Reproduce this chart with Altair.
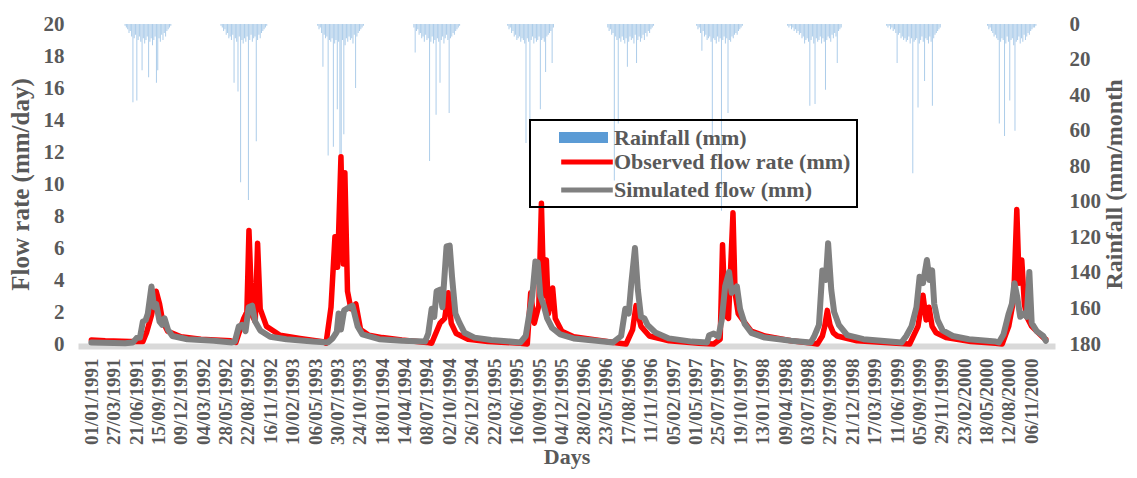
import altair as alt
import pandas as pd

START = "1991-01-01"
AXIS_START_DAY = -32
AXIS_END_DAY = 3668

tick_labels = [
    "01/01/1991", "27/03/1991", "21/06/1991", "15/09/1991", "09/12/1991",
    "04/03/1992", "28/05/1992", "22/08/1992", "16/11/1992",
    "10/02/1993", "06/05/1993", "30/07/1993", "24/10/1993",
    "18/01/1994", "14/04/1994", "08/07/1994", "02/10/1994", "26/12/1994",
    "22/03/1995", "16/06/1995", "10/09/1995", "04/12/1995",
    "28/02/1996", "23/05/1996", "17/08/1996", "11/11/1996",
    "05/02/1997", "01/05/1997", "25/07/1997", "19/10/1997",
    "13/01/1998", "09/04/1998", "03/07/1998", "27/09/1998", "21/12/1998",
    "17/03/1999", "11/06/1999", "05/09/1999", "29/11/1999",
    "23/02/2000", "18/05/2000", "12/08/2000", "06/11/2000",
]

# Observed flow rate (mm/day): day offset from 01/01/1991 and value
obs_day = [0, 53, 148, 197, 211, 230, 248, 261, 273, 292, 343, 419, 533, 553,
           583, 595, 603, 615, 627, 636, 646, 670, 722, 798, 886,
           898, 917, 932, 942, 955, 964, 970, 980, 993, 1012, 1030, 1062, 1113, 1188, 1283,
           1302, 1334, 1352, 1366, 1377, 1396, 1441, 1517, 1642,
           1668, 1681, 1695, 1712, 1722, 1731, 1741, 1749, 1765, 1775, 1800, 1845, 1932, 2021,
           2046, 2071, 2084, 2103, 2135, 2210, 2324,
           2381, 2406, 2415, 2425, 2438, 2455, 2463, 2475, 2495, 2525, 2577, 2677, 2760,
           2778, 2797, 2806, 2816, 2826, 2839, 2854, 2929, 3081,
           3131, 3163, 3182, 3194, 3205, 3217, 3232, 3270, 3365, 3460,
           3485, 3510, 3529, 3541, 3550, 3560, 3570, 3579, 3598, 3623, 3645, 3652]
obs_flow = [0.25, 0.2, 0.15, 0.15, 0.7, 1.8, 3.3, 2.5, 1.4, 0.8, 0.45, 0.3, 0.2, 0.1,
            1.6, 2.0, 7.1, 1.8, 1.4, 6.3, 2.2, 1.1, 0.55, 0.35, 0.15,
            0.05, 2.3, 6.7, 4.8, 11.7, 5.0, 10.7, 3.3, 2.2, 2.5, 0.9, 0.55, 0.4, 0.25, 0.1,
            0.05, 1.3, 1.6, 3.2, 1.3, 0.65, 0.3, 0.15, 0.05,
            0.0, 3.2, 1.3, 2.4, 8.8, 3.0, 5.25, 1.9, 3.5, 1.6, 0.8, 0.45, 0.25, 0.05,
            0.0, 0.9, 2.4, 1.1, 0.5, 0.2, 0.05,
            0.0, 0.3, 6.2, 1.8, 1.6, 8.2, 3.2, 1.9, 1.45, 0.8, 0.5, 0.2, 0.05,
            0.0, 0.5, 1.1, 2.1, 1.2, 0.7, 0.5, 0.2, 0.05,
            0.0, 1.1, 3.05, 1.5, 2.3, 1.1, 0.7, 0.4, 0.15, 0.05,
            0.0, 1.1, 2.8, 8.4, 3.8, 5.25, 2.5, 1.7, 1.1, 0.7, 0.35, 0.3]

# Simulated flow (mm/day)
sim_day = [0, 129, 159, 173, 186, 197, 208, 216, 230, 240, 248, 261, 271, 280, 293, 310, 367, 469,
           538, 549, 564, 576, 590, 602, 615, 627, 646, 684, 746, 848,
           905, 923, 939, 946, 955, 967, 987, 999, 1019, 1037, 1101, 1188,
           1277, 1289, 1302, 1312, 1321, 1334, 1343, 1359, 1371, 1380, 1393, 1409, 1428, 1466, 1530,
           1642, 1662, 1674, 1687, 1699, 1708, 1718, 1731, 1744, 1763, 1794, 1845, 1932,
           1996, 2027, 2043, 2056, 2066, 2080, 2091, 2103, 2116, 2128, 2160, 2210, 2298,
           2356, 2364, 2381, 2399, 2412, 2425, 2440, 2450, 2470, 2482, 2500, 2525, 2577, 2677,
           2753, 2765, 2784, 2797, 2810, 2819, 2831, 2842, 2860, 2892, 2954, 3056,
           3100, 3118, 3138, 3157, 3169, 3182, 3197, 3207, 3217, 3225, 3238, 3257, 3296, 3358, 3460,
           3472, 3490, 3510, 3522, 3532, 3542, 3554, 3567, 3579, 3589, 3598, 3617, 3642, 3652]
sim_flow = [0.1, 0.05, 0.1, 0.37, 0.4, 1.4, 1.5, 1.9, 3.6, 2.3, 2.5, 1.4, 1.2, 1.6, 0.9, 0.5, 0.3, 0.2,
            0.1, 0.15, 1.1, 1.2, 0.8, 2.3, 2.4, 1.4, 0.85, 0.45, 0.3, 0.15,
            0.1, 0.35, 0.75, 1.9, 0.9, 2.1, 2.3, 2.4, 1.1, 0.6, 0.3, 0.2,
            0.15, 0.65, 2.2, 1.7, 3.3, 3.4, 2.3, 6.1, 6.15, 4.2, 1.9, 1.3, 0.7, 0.4, 0.25,
            0.1, 0.5, 1.7, 3.0, 5.15, 5.1, 3.0, 2.4, 1.6, 1.0, 0.6, 0.35, 0.2,
            0.1, 0.5, 2.2, 1.9, 3.8, 6.0, 3.4, 1.7, 1.6, 1.2, 0.7, 0.35, 0.15,
            0.1, 0.55, 0.65, 0.45, 1.5, 3.6, 4.5, 3.2, 3.6, 2.2, 1.25, 0.7, 0.4, 0.2,
            0.1, 0.45, 1.2, 4.6, 4.0, 6.3, 3.4, 2.0, 1.2, 0.55, 0.3, 0.15,
            0.1, 0.5, 1.1, 2.3, 4.2, 3.8, 5.25, 4.0, 4.6, 2.5, 1.5, 0.85, 0.5, 0.3, 0.15,
            0.1, 0.6, 1.9, 2.5, 3.8, 3.0, 1.7, 1.9, 1.7, 4.5, 1.3, 0.8, 0.5, 0.2]

# Rainfall (mm): one list per wet season, one value every RAIN_STEP days from the season start
RAIN_STEP = 5
rain_season_start = [129, 496, 866, 1234, 1593, 1976, 2316, 2664, 3043, 3429]
rain_1991 = [1, 2, 3, 5, 4, 7, 44, 8, 6, 43, 9, 7, 10, 26, 8, 11, 9, 7, 30, 10, 8, 12, 9, 7, 33, 26,
             8, 10, 6, 9, 5, 7, 4, 3, 2, 1]
rain_1992 = [1, 2, 4, 3, 6, 5, 8, 7, 9, 6, 33, 8, 10, 38, 7, 89, 9, 11, 8, 10, 7, 99, 9, 6, 10, 8, 7,
             66, 9, 6, 8, 5, 4, 3, 2, 1]
rain_1993 = [1, 3, 2, 5, 24, 6, 8, 7, 74, 9, 10, 8, 69, 11, 9, 48, 10, 75, 73, 9, 62, 12, 8, 10, 7, 9,
             8, 11, 6, 36, 7, 5, 4, 3, 2, 1]
rain_1994 = [2, 16, 4, 3, 6, 5, 8, 7, 10, 6, 9, 8, 77, 10, 7, 11, 9, 51, 8, 10, 33, 9, 7, 11, 8, 6, 9,
             50, 8, 7, 5, 6, 4, 3, 2, 1]
rain_1995 = [1, 3, 2, 5, 4, 7, 6, 9, 8, 7, 10, 8, 9, 11, 67, 8, 10, 90, 9, 7, 11, 8, 10, 9, 7, 48, 9,
             8, 10, 27, 7, 6, 5, 4, 22, 2]
rain_1996 = [2, 4, 3, 6, 5, 88, 7, 9, 56, 8, 10, 7, 9, 11, 8, 24, 10, 7, 9, 8, 11, 6, 22, 9, 7, 10, 8,
             6, 9, 5, 7, 4, 5, 3, 2, 1]
rain_1997 = [1, 3, 2, 5, 15, 4, 7, 6, 9, 8, 7, 10, 67, 8, 9, 11, 7, 10, 8, 105, 9, 7, 11, 8, 50, 9, 10,
             7, 8, 6, 5, 6, 4, 3, 2, 1]
rain_1998 = [1, 2, 1, 3, 2, 4, 3, 5, 4, 6, 5, 8, 7, 11, 9, 8, 10, 46, 9, 7, 11, 45, 8, 10, 9, 7, 11, 8,
             10, 37, 9, 7, 8, 10, 6, 8, 5, 7, 22, 4, 3, 2]
rain_1999 = [1, 2, 1, 3, 2, 4, 3, 5, 22, 6, 5, 8, 7, 9, 8, 10, 9, 7, 11, 8, 84, 10, 9, 8, 47, 11, 9, 7,
             10, 32, 8, 9, 11, 7, 10, 46, 8, 6, 5, 4, 3, 2]
rain_2000 = [1, 3, 2, 4, 5, 7, 6, 8, 9, 56, 10, 8, 9, 63, 11, 7, 10, 43, 9, 8, 12, 60, 10, 9, 7, 11, 8,
             10, 6, 9, 7, 5, 6, 4, 3, 2, 2, 1]
rain_seasons = [rain_1991, rain_1992, rain_1993, rain_1994, rain_1995,
                rain_1996, rain_1997, rain_1998, rain_1999, rain_2000]

RAIN_NAME = "Rainfall (mm)"
FLOW_NAMES = ["Observed flow rate (mm)", "Simulated flow (mm)"]
RAIN_COLOR = "#5B9BD5"
FLOW_COLORS = ["#FF0000", "#808080"]

# ---------------------------------------------------------------------------
base = pd.Timestamp(START)


def to_date(d):
    return (base + pd.Timedelta(days=int(d))).strftime("%Y-%m-%dT00:00:00")


def dt(ts):
    return alt.DateTime(year=ts.year, month=ts.month, date=ts.day)


obs_df = pd.DataFrame({"date": [to_date(d) for d in obs_day], "flow": obs_flow, "series": FLOW_NAMES[0]})
sim_df = pd.DataFrame({"date": [to_date(d) for d in sim_day], "flow": sim_flow, "series": FLOW_NAMES[1]})

rain_rows = []
for start, vals in zip(rain_season_start, rain_seasons):
    for i, v in enumerate(vals):
        rain_rows.append({"date": to_date(start + i * RAIN_STEP), "rain": v, "series": RAIN_NAME})
rain_df = pd.DataFrame(rain_rows)

tick_vals = [dt(pd.Timestamp(year=int(s[6:]), month=int(s[3:5]), day=int(s[:2]))) for s in tick_labels]
x_domain = [dt(base + pd.Timedelta(days=AXIS_START_DAY)), dt(base + pd.Timedelta(days=AXIS_END_DAY))]

FONT = "Liberation Serif"
GREY = "#595959"

x_enc = alt.X(
    "date:T",
    scale=alt.Scale(domain=x_domain, nice=False),
    axis=alt.Axis(
        values=tick_vals, format="%d/%m/%Y", labelAngle=270, labelFont=FONT,
        labelFontWeight="bold", labelFontSize=19, labelColor=GREY, labelPadding=12,
        labelOverlap=False, labelFlush=False, ticks=False, grid=False,
        domain=True, domainColor="#D9D9D9", domainWidth=6, offset=2,
        title="Days", titleFont=FONT, titleFontWeight="bold", titleFontSize=22,
        titleColor=GREY, titlePadding=2,
    ),
)

rain_legend = alt.Legend(
    title=None, orient="none", legendX=457, legendY=89, direction="vertical", padding=0,
    labelFont=FONT, labelFontWeight="bold", labelFontSize=22, labelColor=GREY, labelLimit=500,
    symbolType="M-1,-0.2245H1V0.2245H-1Z", symbolSize=2401, symbolStrokeWidth=0,
    symbolOpacity=1, symbolOffset=24, labelOffset=6,
)
flow_legend = alt.Legend(
    title="\u00a0", titleFontSize=16, titlePadding=9, orient="none", legendX=452, legendY=96,
    direction="vertical", strokeColor="black", padding=6, rowPadding=6,
    labelFont=FONT, labelFontWeight="bold", labelFontSize=22, labelColor=GREY, labelLimit=500,
    symbolType="M-5.5,0H5.5", symbolSize=88, symbolStrokeWidth=5, symbolOpacity=1,
    symbolOffset=40, labelOffset=16,
)

flow_y = alt.Y(
    "flow:Q",
    scale=alt.Scale(domain=[0, 20], nice=False),
    axis=alt.Axis(
        orient="left", values=list(range(0, 21, 2)), labelFont=FONT, labelFontWeight="bold",
        labelFontSize=21, labelColor=GREY, labelPadding=14, ticks=False, domain=False, grid=False,
        title="Flow rate (mm/day)", titleFont=FONT, titleFontWeight="bold", titleFontSize=25,
        titleColor=GREY, titlePadding=10,
    ),
)
flow_stroke = alt.Stroke("series:N", scale=alt.Scale(domain=FLOW_NAMES, range=FLOW_COLORS),
                         legend=flow_legend)

rain = alt.Chart(rain_df).mark_bar(width=1, opacity=0.5).encode(
    x=x_enc,
    y=alt.Y(
        "rain:Q", stack=None,
        scale=alt.Scale(domain=[0, 180], reverse=True, nice=False),
        axis=alt.Axis(
            orient="right", values=list(range(0, 181, 20)), labelFont=FONT, labelFontWeight="bold",
            labelFontSize=21, labelColor=GREY, labelPadding=14, ticks=False, domain=False, grid=False,
            title="Rainfall (mm/month", titleFont=FONT, titleFontWeight="bold", titleFontSize=24,
            titleColor=GREY, titlePadding=2, titleAngle=270, titleBaseline="top",
        ),
    ),
    fill=alt.Fill("series:N", scale=alt.Scale(domain=[RAIN_NAME], range=[RAIN_COLOR]),
                  legend=rain_legend),
)

obs = alt.Chart(obs_df).mark_line(strokeWidth=5.5, strokeJoin="round", strokeCap="round").encode(
    x=x_enc, y=flow_y, stroke=flow_stroke
)
sim = alt.Chart(sim_df).mark_line(strokeWidth=6, strokeJoin="round", strokeCap="round").encode(
    x=x_enc, y=flow_y, stroke=flow_stroke
)

flows = alt.layer(obs, sim)

chart = (
    alt.layer(rain, flows)
    .resolve_scale(y="independent")
    .properties(
        width=977, height=320,
        autosize=alt.AutoSizeParams(type="none"),
        padding={"left": 70, "top": 16, "right": 74, "bottom": 126},
        background="white",
    )
    .configure_view(stroke=None)
    .configure_legend(strokeWidth=2)
)

chart.save("out.html", embed_options={"renderer": "svg", "actions": False})
